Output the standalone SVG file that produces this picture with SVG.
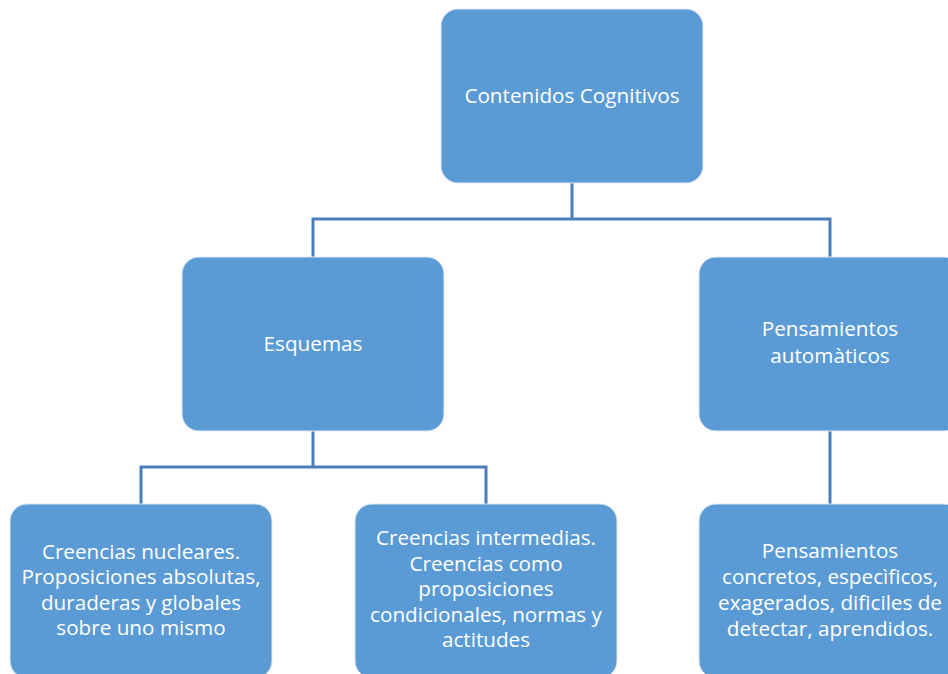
<svg xmlns="http://www.w3.org/2000/svg" width="948" height="674" viewBox="0 0 948 674">
<style>
.box{fill:#5B9BD5;stroke:#DDE8F4;stroke-width:1}
.t{font-family:"Open Sans","Liberation Sans",sans-serif;font-size:20.7px;fill:#FFFFFF;text-anchor:middle}
.c{fill:none;stroke:#4A7EBB;stroke-width:3}
</style>
<rect width="948" height="674" fill="#FFFFFF"/>
<g id="connectors">
<path class="c" d="M572 183 V219 M313 257 V219 H830 V257"/>
<path class="c" d="M313 431 V467 M141 504 V467 H486 V504"/>
<path class="c" d="M830 431 V504"/>
</g>
<g id="contenidos">
<rect class="box" x="441" y="9" width="262" height="174" rx="17"/>
<text class="t" x="572" y="103">Contenidos Cognitivos</text>
</g>
<g id="esquemas">
<rect class="box" x="182" y="257" width="262" height="174" rx="17"/>
<text class="t" x="313" y="351">Esquemas</text>
</g>
<g id="pensamientos">
<rect class="box" x="699" y="257" width="262" height="174" rx="17"/>
<text class="t" x="830" y="336">Pensamientos</text>
<text class="t" x="830" y="363">automàticos</text>
</g>
<g id="nucleares">
<rect class="box" x="10" y="504" width="262" height="174" rx="17"/>
<text class="t" x="141" y="559">Creencias nucleares.</text>
<text class="t" x="141" y="584">Proposiciones absolutas,</text>
<text class="t" x="141" y="610">duraderas y globales</text>
<text class="t" x="141" y="635">sobre uno mismo</text>
</g>
<g id="intermedias">
<rect class="box" x="355" y="504" width="262" height="174" rx="17"/>
<text class="t" x="486" y="545">Creencias intermedias.</text>
<text class="t" x="486" y="571">Creencias como</text>
<text class="t" x="486" y="596">proposiciones</text>
<text class="t" x="486" y="622">condicionales, normas y</text>
<text class="t" x="486" y="647">actitudes</text>
</g>
<g id="concretos">
<rect class="box" x="699" y="504" width="262" height="174" rx="17"/>
<text class="t" x="830" y="558">Pensamientos</text>
<text class="t" x="830" y="584">concretos, especìficos,</text>
<text class="t" x="830" y="610">exagerados, dificiles de</text>
<text class="t" x="830" y="636">detectar, aprendidos.</text>
</g>
</svg>
